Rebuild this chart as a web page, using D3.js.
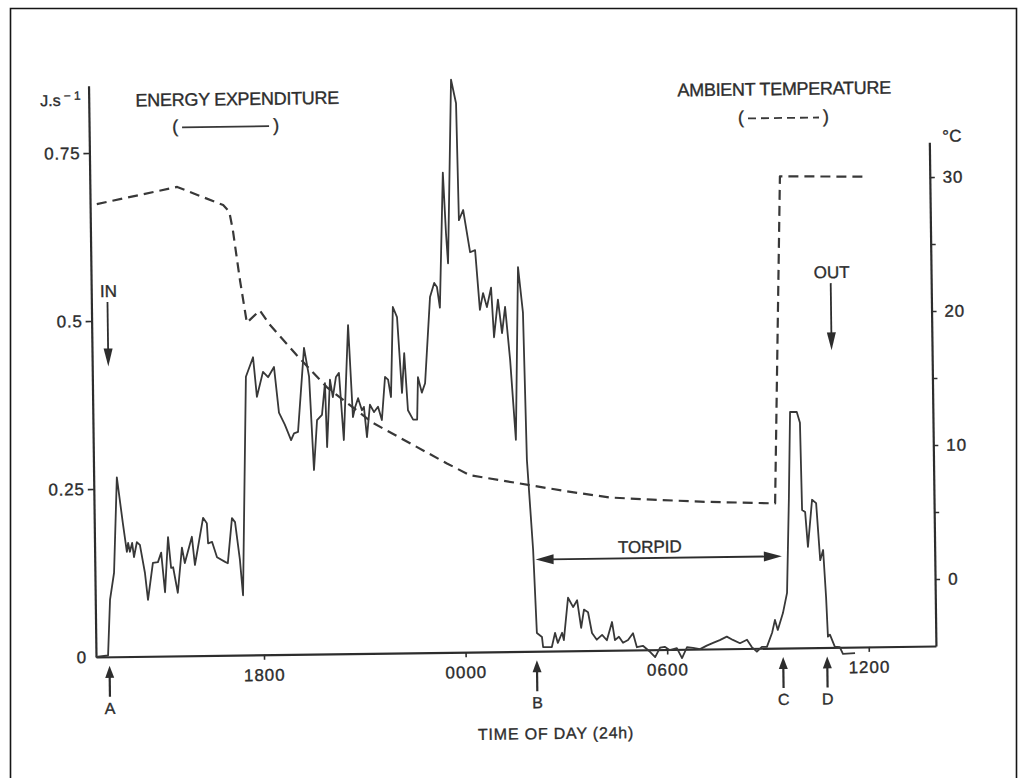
<!DOCTYPE html>
<html>
<head>
<meta charset="utf-8">
<script src="https://cdn.jsdelivr.net/npm/d3@7"></script>
<style>
  html, body { margin: 0; padding: 0; background: #fff; }
  svg { display: block; }
  svg text { stroke: #2d2d2d; stroke-width: 0.35px; }
</style>
</head>
<body>
<svg id="chart" width="1018" height="778"></svg>
<script>
// Time is in decimal hours from 13:00 on day one (24 = midnight, 36 = noon next day).

// Energy expenditure (J.s-1)
const energyHours = [
  13.00, 13.36, 13.44, 13.57, 13.69, 13.85, 13.96, 14.00, 14.05, 14.12,
  14.17, 14.26, 14.35, 14.49, 14.57, 14.73, 14.88, 14.98, 15.08, 15.19,
  15.27, 15.33, 15.46, 15.60, 15.68, 15.90, 15.98, 16.24, 16.35, 16.38,
  16.50, 16.64, 16.88, 16.96, 17.10, 17.19, 17.32, 17.40, 17.57, 17.79,
  17.89, 18.08, 18.23, 18.41, 18.54, 18.71, 18.89, 18.98, 19.10, 19.31,
  19.45, 19.56, 19.67, 19.82, 19.92, 19.96, 20.07, 20.15, 20.25, 20.34,
  20.46, 20.63, 20.74, 20.81, 20.90, 21.01, 21.07, 21.15, 21.25, 21.37,
  21.49, 21.60, 21.71, 21.80, 21.88, 21.97, 22.09, 22.21, 22.29, 22.38,
  22.53, 22.65, 22.69, 22.80, 22.90, 23.08, 23.21, 23.29, 23.37, 23.51,
  23.58, 23.63, 23.79, 23.93, 23.97, 24.10, 24.29, 24.44, 24.56, 24.66,
  24.77, 24.90, 24.97, 25.10, 25.21, 25.31, 25.44, 25.58, 25.71, 25.84,
  25.90, 26.05, 26.13, 26.28, 26.31, 26.57, 26.67, 26.75, 26.88, 26.93,
  27.07, 27.22, 27.34, 27.45, 27.54, 27.66, 27.77, 27.91, 28.07, 28.21,
  28.37, 28.45, 28.57, 28.69, 28.84, 28.99, 29.10, 29.28, 29.49, 29.64,
  29.79, 29.93, 30.08, 30.29, 30.44, 30.59, 30.77, 30.98, 31.18, 31.37,
  31.57, 31.78, 31.96, 32.17, 32.38, 32.52, 32.67, 32.82, 32.97, 33.13,
  33.22, 33.30, 33.46, 33.59, 33.68, 33.75, 33.95, 34.04, 34.07, 34.16,
  34.23, 34.37, 34.49, 34.59, 34.68, 34.75, 34.79, 34.85, 34.99, 35.14,
  35.23, 35.59
];
const energyValues = [
  0.000, 0.002, 0.085, 0.125, 0.267, 0.199, 0.156, 0.169, 0.156, 0.169,
  0.148, 0.170, 0.166, 0.124, 0.084, 0.139, 0.140, 0.154, 0.095, 0.177,
  0.131, 0.132, 0.094, 0.161, 0.138, 0.177, 0.135, 0.205, 0.197, 0.167,
  0.169, 0.146, 0.139, 0.137, 0.204, 0.198, 0.142, 0.089, 0.414, 0.443,
  0.384, 0.421, 0.413, 0.428, 0.360, 0.342, 0.319, 0.329, 0.331, 0.456,
  0.413, 0.274, 0.348, 0.356, 0.403, 0.308, 0.408, 0.382, 0.412, 0.418,
  0.318, 0.489, 0.352, 0.367, 0.380, 0.362, 0.367, 0.322, 0.370, 0.359,
  0.367, 0.347, 0.411, 0.407, 0.381, 0.515, 0.500, 0.387, 0.446, 0.361,
  0.347, 0.347, 0.410, 0.387, 0.401, 0.529, 0.550, 0.544, 0.513, 0.714,
  0.624, 0.579, 0.852, 0.817, 0.643, 0.658, 0.595, 0.598, 0.509, 0.534,
  0.513, 0.542, 0.468, 0.524, 0.474, 0.513, 0.434, 0.315, 0.572, 0.504,
  0.285, 0.151, 0.027, 0.021, 0.006, 0.006, 0.027, 0.012, 0.027, 0.016,
  0.079, 0.065, 0.075, 0.034, 0.061, 0.057, 0.026, 0.016, 0.023, 0.015,
  0.042, 0.015, 0.020, 0.011, 0.015, 0.025, 0.004, 0.006, -0.003, -0.011,
  0.003, 0.004, -0.001, 0.002, -0.013, 0.003, 0.002, 0.000, 0.005, 0.009,
  0.013, 0.018, 0.013, 0.008, 0.013, 0.002, -0.005, 0.002, 0.002, 0.023,
  0.042, 0.027, 0.052, 0.082, 0.220, 0.351, 0.351, 0.335, 0.205, 0.202,
  0.150, 0.220, 0.215, 0.130, 0.145, 0.075, 0.016, 0.019, 0.001, 0.000,
  -0.010, -0.009
];

// Ambient temperature (°C)
const tempHours = [
  13.20, 15.60, 16.96, 17.14, 17.24, 17.43, 17.62, 18.01, 18.31, 19.10,
  19.98, 21.33, 23.52, 24.20, 25.09, 27.08, 28.36, 29.61, 31.04, 33.27,
  33.54, 36.04
];
const tempValues = [
  28.8, 30.0, 28.6, 28.1, 26.7, 23.0, 19.8, 20.7, 19.6, 17.3,
  14.9, 12.2, 9.1, 8.2, 7.8, 6.9, 6.4, 6.2, 6.0, 5.8,
  30.2, 30.1
];

// Axis ticks
const timeTicks = [18, 24, 30, 36];
const timeTickLabels = ["1800", "0000", "0600", "1200"];
const energyTicks = [0, 0.25, 0.5, 0.75];
const energyTickLabels = ["0", "0.25", "0.5", "0.75"];
const tempTicks = [0, 10, 20, 30];
const tempMinorTicks = [5, 15, 25];

// Event markers under the time axis
const eventLabels = ["A", "B", "C", "D"];
const eventHours = [13.40, 26.12, 33.45, 34.76];

// IN / OUT arrows: hour, energy level of the arrow's tail and of its tip
const flowLabels = ["IN", "OUT"];
const flowHours = [13.48, 35.01];
const flowTail = [0.528, 0.542];
const flowTip = [0.432, 0.442];

// Torpid period bracket
const torpidStart = 26.12, torpidEnd = 33.45, torpidLevel = 0.1365;

const font = '"Liberation Sans", Arial, Helvetica, sans-serif';
const ink = "#2d2d2d";
const lineInk = "#383838";

const svg = d3.select("#chart");

// frame around the figure
svg.append("path")
  .attr("d", "M10.5,778V8.5H1016.5V778")
  .attr("fill", "none").attr("stroke", "#151515").attr("stroke-width", 1.6);

// the plate sits very slightly tilted
const g = svg.append("g").attr("transform", "rotate(-0.75,96,657)");

const x = d3.scaleLinear().domain([13, 38]).range([96, 936]);
const yE = d3.scaleLinear().domain([0, 0.85]).range([657, 85.8]);
const yT = d3.scaleLinear().domain([-5, 32.6]).range([657, 153.2]);

function styleAxis(sel, size, spacing) {
  sel.attr("font-family", font);
  sel.select(".domain").attr("stroke", ink).attr("stroke-width", 2.2);
  sel.selectAll(".tick line").attr("stroke", ink).attr("stroke-width", 1.6);
  sel.selectAll(".tick text").attr("fill", ink).attr("font-size", size)
    .attr("letter-spacing", spacing);
}

// time axis
const gx = g.append("g").attr("transform", `translate(0,${yE(0)})`)
  .call(d3.axisBottom(x).tickValues(timeTicks)
    .tickFormat((d, i) => timeTickLabels[i])
    .tickSize(5).tickSizeOuter(0).tickPadding(9));
styleAxis(gx, 17, 1);

// energy axis (left)
const gl = g.append("g").attr("transform", `translate(${x(13)},0)`)
  .call(d3.axisLeft(yE).tickValues(energyTicks)
    .tickFormat((d, i) => energyTickLabels[i])
    .tickSize(6).tickSizeOuter(0).tickPadding(3));
styleAxis(gl, 17, 0.8);
gl.selectAll(".tick").filter(d => d === 0).select("line").remove();

// temperature axis (right)
const tempAll = tempTicks.concat(tempMinorTicks).sort((a, b) => a - b);
const gr = g.append("g").attr("transform", `translate(${x(38)},0)`)
  .call(d3.axisRight(yT).tickValues(tempAll)
    .tickFormat(d => tempTicks.includes(d) ? String(d) : "")
    .tickSize(5).tickSizeOuter(0).tickPadding(8));
styleAxis(gr, 17, 0.8);

// unit labels
const unitL = g.append("text").attr("x", 88).attr("y", 105.5)
  .attr("text-anchor", "end").attr("font-family", font).attr("fill", ink)
  .attr("font-size", 16);
unitL.append("tspan").text("J.s");
unitL.append("tspan").attr("dx", 3).attr("dy", -6).attr("font-size", 12).text("\u2212 1");

g.append("text").attr("x", 949).attr("y", 153).attr("font-family", font)
  .attr("fill", ink).attr("font-size", 17).text("°C");

// series titles
g.append("text").attr("x", 244.5).attr("y", 107).attr("text-anchor", "middle")
  .attr("font-family", font).attr("font-size", 18).attr("letter-spacing", -0.3)
  .attr("fill", ink).text("ENERGY EXPENDITURE");
g.append("text").attr("x", 791.5).attr("y", 104).attr("text-anchor", "middle")
  .attr("font-family", font).attr("font-size", 18).attr("letter-spacing", -0.3)
  .attr("fill", ink).text("AMBIENT TEMPERATURE");

// line-style keys under the titles
function key(x0, x1, yMid, dash) {
  g.append("text").attr("x", x0).attr("y", yMid + 5).attr("font-family", font)
    .attr("font-size", 18).attr("fill", ink).attr("text-anchor", "middle").text("(");
  g.append("text").attr("x", x1).attr("y", yMid + 5).attr("font-family", font)
    .attr("font-size", 18).attr("fill", ink).attr("text-anchor", "middle").text(")");
  g.append("line").attr("x1", x0 + 7).attr("x2", x1 - 7)
    .attr("y1", yMid).attr("y2", yMid)
    .attr("stroke", lineInk).attr("stroke-width", 1.8)
    .attr("stroke-dasharray", dash);
}
key(182, 283, 128.5, null);
key(748, 833, 127, "8,5");

// series
const energy = energyHours.map((h, i) => ({ h, v: energyValues[i] }));
const temp = tempHours.map((h, i) => ({ h, t: tempValues[i] }));

g.append("path").datum(temp)
  .attr("d", d3.line().x(d => x(d.h)).y(d => yT(d.t)))
  .attr("fill", "none").attr("stroke", lineInk).attr("stroke-width", 2.2)
  .attr("stroke-dasharray", "10,6").attr("stroke-linejoin", "round");

g.append("path").datum(energy)
  .attr("d", d3.line().x(d => x(d.h)).y(d => yE(d.v)))
  .attr("fill", "none").attr("stroke", lineInk).attr("stroke-width", 1.8)
  .attr("stroke-linejoin", "round");

// event arrows A-D below the axis
const base = yE(0);
eventHours.forEach((h, i) => {
  const cx = x(h);
  g.append("line").attr("x1", cx).attr("x2", cx)
    .attr("y1", base + 19).attr("y2", base + 40)
    .attr("stroke", ink).attr("stroke-width", 2.2);
  g.append("path")
    .attr("d", `M${cx},${base + 9}L${cx - 4.5},${base + 21}L${cx + 4.5},${base + 21}Z`)
    .attr("fill", ink);
  g.append("text").attr("x", cx).attr("y", base + 57).attr("text-anchor", "middle")
    .attr("font-family", font).attr("font-size", 16).attr("fill", ink)
    .text(eventLabels[i]);
});

// IN / OUT arrows
flowHours.forEach((h, i) => {
  const cx = x(h), y0 = yE(flowTail[i]), y1 = yE(flowTip[i]);
  g.append("line").attr("x1", cx).attr("x2", cx).attr("y1", y0).attr("y2", y1 - 14)
    .attr("stroke", ink).attr("stroke-width", 1.8);
  g.append("path")
    .attr("d", `M${cx},${y1}L${cx - 4.5},${y1 - 18}L${cx + 4.5},${y1 - 18}Z`)
    .attr("fill", ink);
  g.append("text").attr("x", cx + 1).attr("y", y0 - 5).attr("text-anchor", "middle")
    .attr("font-family", font).attr("font-size", 17).attr("fill", ink)
    .text(flowLabels[i]);
});

// torpid bracket
{
  const xa = x(torpidStart), xb = x(torpidEnd), yy = yE(torpidLevel);
  g.append("line").attr("x1", xa + 14).attr("x2", xb - 14).attr("y1", yy).attr("y2", yy)
    .attr("stroke", ink).attr("stroke-width", 1.8);
  g.append("path").attr("d", `M${xa},${yy}L${xa + 18},${yy - 5}L${xa + 18},${yy + 5}Z`)
    .attr("fill", ink);
  g.append("path").attr("d", `M${xb},${yy}L${xb - 18},${yy - 5}L${xb - 18},${yy + 5}Z`)
    .attr("fill", ink);
  g.append("text").attr("x", x((torpidStart + torpidEnd) / 2 - 0.26))
    .attr("y", yE(torpidLevel + 0.008)).attr("text-anchor", "middle")
    .attr("font-family", font).attr("font-size", 17).attr("fill", ink)
    .text("TORPID");
}

// time axis title
g.append("text").attr("x", 555).attr("y", 745).attr("text-anchor", "middle")
  .attr("font-family", font).attr("font-size", 16).attr("letter-spacing", 0.8)
  .attr("fill", ink).text("TIME OF DAY (24h)");
</script>
</body>
</html>
